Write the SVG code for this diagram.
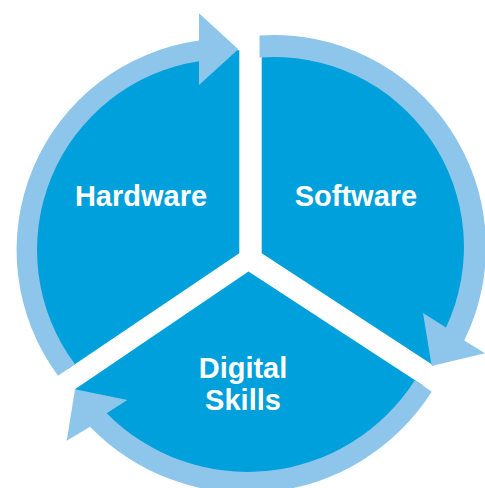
<svg xmlns="http://www.w3.org/2000/svg" width="485" height="488" viewBox="0 0 485 488">
  <style>
    .sector { fill: #00A0DC; stroke: none; }
    .arrow { fill: #8DC6EA; stroke: none; }
    .label { font-family: "Liberation Sans", Arial, sans-serif; font-weight: bold; font-size: 29px; fill: #FFFFFF; text-anchor: middle; }
  </style>
  <rect width="485" height="488" fill="#FFFFFF"/>
  <g id="node-hardware">
    <path class="sector" d="M239.3,253.3 L239.3,50.3 A200,200 0 0 0 67.5,369.3 Z"/>
    <text class="label" x="141" y="206">Hardware</text>
  </g>
  <g id="node-software">
    <path class="sector" d="M261.7,253.3 L261.7,50.4 A197,197 0 0 1 432,364.5 Z"/>
    <text class="label" x="356" y="206">Software</text>
  </g>
  <g id="node-digital-skills">
    <path class="sector" d="M248.5,271.5 L422,384.8 A207,207 0 0 1 75.3,389.1 Z"/>
    <text class="label" x="243" y="378">Digital</text>
    <text class="label" x="243" y="410">Skills</text>
  </g>
  <g id="connectors">
    <path id="arrow-hardware-software" class="arrow" d="M58,375.7 A211.5,211.5 0 0 1 199,40.5 L199,13.3 L238.3,49.3 L199,85 L199,61.2 A191,191 0 0 0 75,364.3 Z"/>
    <path id="arrow-software-digital" class="arrow" d="M259.5,35.5 A212,212 0 0 1 464.2,340.6 L485,353.3 L431.7,366 L423,313 L446,327.6 A190,190 0 0 0 259.5,57.55 Z"/>
    <path id="arrow-digital-hardware" class="arrow" d="M431.7,391.7 A219,219 0 0 1 90,426.7 L66.7,440.7 L75,389.3 L127.3,400 L106.7,413.3 A198.5,198.5 0 0 0 415,380 Z"/>
  </g>
</svg>
